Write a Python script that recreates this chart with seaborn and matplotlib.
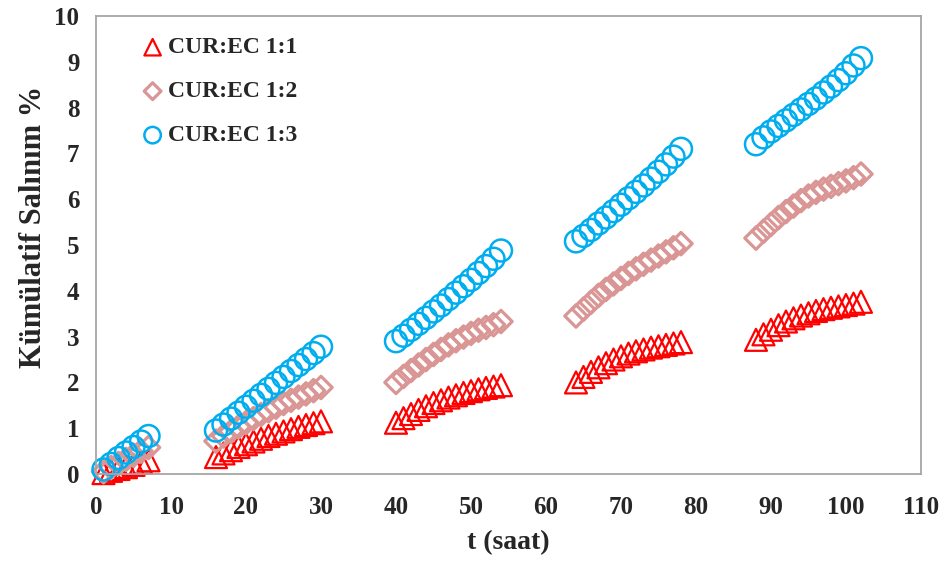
import numpy as np
import pandas as pd
import matplotlib
matplotlib.use("Agg")
import matplotlib.pyplot as plt
import seaborn as sns

# === Data
t_seg1 = list(range(1, 8))
t_seg2 = list(range(16, 31))
t_seg3 = list(range(40, 55))
t_seg4 = list(range(64, 79))
t_seg5 = list(range(88, 103))
t_all = t_seg1 + t_seg2 + t_seg3 + t_seg4 + t_seg5

cur_ec_11 = [0.02, 0.07, 0.11, 0.15, 0.2, 0.25, 0.3,
             0.37, 0.45, 0.52, 0.59, 0.65, 0.71, 0.77, 0.83, 0.88, 0.93, 0.98, 1.03, 1.07, 1.11, 1.15,
             1.12, 1.22, 1.31, 1.4, 1.48, 1.55, 1.61, 1.67, 1.72, 1.77, 1.81, 1.85, 1.88, 1.91, 1.94,
             2.0, 2.12, 2.23, 2.33, 2.42, 2.5, 2.57, 2.63, 2.68, 2.72, 2.76, 2.79, 2.82, 2.85, 2.88,
             2.93, 3.05, 3.15, 3.25, 3.33, 3.4, 3.46, 3.51, 3.56, 3.6, 3.63, 3.66, 3.69, 3.72, 3.76]

cur_ec_12 = [0.05, 0.14, 0.23, 0.32, 0.41, 0.5, 0.58,
             0.72, 0.83, 0.93, 1.03, 1.12, 1.21, 1.3, 1.38, 1.46, 1.54, 1.61, 1.68, 1.75, 1.82, 1.89,
             2.0, 2.13, 2.26, 2.38, 2.5, 2.61, 2.72, 2.82, 2.91, 2.99, 3.07, 3.14, 3.2, 3.26, 3.33,
             3.45, 3.6, 3.75, 3.9, 4.03, 4.15, 4.27, 4.38, 4.48, 4.58, 4.67, 4.76, 4.85, 4.94, 5.03,
             5.15, 5.3, 5.45, 5.6, 5.73, 5.85, 5.97, 6.07, 6.15, 6.22, 6.28, 6.34, 6.4, 6.47, 6.55]

cur_ec_13 = [0.1, 0.22, 0.35, 0.47, 0.59, 0.71, 0.83,
             0.95, 1.08, 1.21, 1.34, 1.47, 1.6, 1.73, 1.86, 1.99, 2.12, 2.25, 2.38, 2.51, 2.64, 2.78,
             2.9, 3.02, 3.15, 3.28, 3.41, 3.55, 3.68, 3.82, 3.96, 4.1, 4.24, 4.39, 4.54, 4.7, 4.88,
             5.08, 5.2, 5.33, 5.47, 5.6, 5.74, 5.88, 6.02, 6.16, 6.3, 6.45, 6.6, 6.76, 6.93, 7.1,
             7.2, 7.35, 7.48, 7.6, 7.72, 7.84, 7.96, 8.08, 8.2, 8.33, 8.46, 8.6, 8.75, 8.92, 9.08]

labels = ["CUR:EC 1:1", "CUR:EC 1:2", "CUR:EC 1:3"]
x_ticks = list(range(0, 111, 10))
y_ticks = list(range(0, 11))

df = pd.DataFrame({"t": t_all, labels[0]: cur_ec_11, labels[1]: cur_ec_12, labels[2]: cur_ec_13})
df = df.melt(id_vars="t", var_name="Formül", value_name="Salinim")

# === Style
sns.set_style("white")
plt.rcParams["font.family"] = ["Liberation Serif", "DejaVu Serif"]
plt.rcParams["font.weight"] = "bold"

fig = plt.figure(figsize=(9.44, 5.61), dpi=100)
ax = fig.add_axes([0.1017, 0.155, 0.8739, 0.8165])

styles = {
    labels[0]: dict(marker="^", color="#ff0000", s=250, lw=1.6),
    labels[1]: dict(marker="D", color="#d99694", s=130, lw=2.3),
    labels[2]: dict(marker="o", color="#00aeef", s=250, lw=1.8),
}

for lab in labels:
    st = styles[lab]
    sub = df[df["Formül"] == lab]
    sns.scatterplot(data=sub, x="t", y="Salinim", ax=ax, marker=st["marker"], s=st["s"],
                    facecolor="none", edgecolor=st["color"], linewidth=st["lw"],
                    label=lab, clip_on=False)

ax.set_xlim(0, 110)
ax.set_ylim(0, 10)
ax.set_xticks(x_ticks)
ax.set_yticks(y_ticks)
ax.tick_params(axis="both", length=0, labelsize=18, pad=12)
ax.tick_params(axis="x", pad=16)
for lbl in ax.get_xticklabels() + ax.get_yticklabels():
    lbl.set_fontweight("bold")

for sp in ax.spines.values():
    sp.set_color("#a6a6a6")
    sp.set_linewidth(1.3)

ax.set_xlabel("t (saat)", fontsize=20, fontweight="bold", labelpad=8)
ax.set_ylabel("Kümülatif Salınım %", fontsize=22, fontweight="bold")
ax.yaxis.set_label_coords(-0.058, 0.54)

leg = ax.legend(loc="upper left", bbox_to_anchor=(0.04, 0.975), frameon=False,
                fontsize=17, markerscale=0.75, handletextpad=0.05, handlelength=1.2,
                labelspacing=0.95, borderaxespad=0)
for txt in leg.get_texts():
    txt.set_fontweight("bold")

plt.savefig("out.png", dpi=100)
plt.close()
